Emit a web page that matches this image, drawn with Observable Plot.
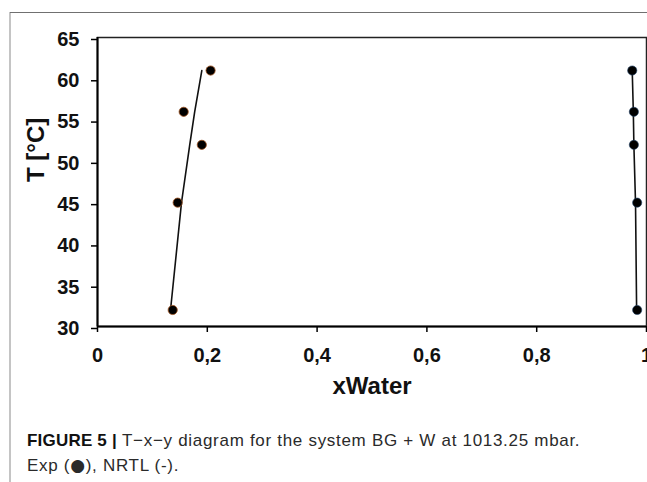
<!DOCTYPE html>
<html>
<head>
<meta charset="utf-8">
<script src="https://cdn.jsdelivr.net/npm/d3@7"></script>
<script src="https://cdn.jsdelivr.net/npm/@observablehq/plot@0.6"></script>
<style>
  html, body { margin: 0; padding: 0; background: #fff; width: 647px; height: 482px; overflow: hidden; }
  #wrap { position: relative; width: 647px; height: 482px; }
  #bl { position: absolute; left: 9px; top: 12px; width: 2px; height: 470px; background: #c4c4c4; }
  #bt { position: absolute; left: 10px; top: 12px; width: 637px; height: 1px; background: #707070; }
  #chart { position: absolute; left: 0; top: 0; }
  #caption { position: absolute; left: 27px; top: 428px; width: 615px; font-family: "Liberation Sans", Arial, sans-serif; font-size: 17px; letter-spacing: 0.7px; line-height: 25px; color: #2a2a2a; white-space: nowrap; }
  #caption b { font-weight: bold; color: #111; letter-spacing: 0.2px; }
  #caption .dot { font-family: "DejaVu Sans", sans-serif; font-size: 17px; }
</style>
</head>
<body>
<div id="wrap">
  <div id="bl"></div>
  <div id="bt"></div>
  <div id="chart"></div>
  <div id="caption"><b>FIGURE 5 |</b> T−x−y diagram for the system BG + W at 1013.25 mbar.<br>Exp (<span class="dot">●</span>), NRTL (-).</div>
</div>
<script>
// Temperatures (°C)
const temps = [32, 45, 52, 56, 61];
// Experimental points (x water), BG-rich and water-rich branches
const expLeftX = [0.137, 0.146, 0.190, 0.157, 0.206];
const expRightX = [0.983, 0.983, 0.977, 0.977, 0.974];
// NRTL curves
const nrtlT = [32, 45, 52, 56, 61];
const nrtlLeftX = [0.133, 0.153, 0.168, 0.177, 0.190];
const nrtlRightX = [0.982, 0.980, 0.977, 0.976, 0.974];
// Ticks
const xTicks = [0, 0.2, 0.4, 0.6, 0.8, 1];
const yTicks = [30, 35, 40, 45, 50, 55, 60, 65];

const expLeft = temps.map((t, i) => ({x: expLeftX[i], T: t}));
const expRight = temps.map((t, i) => ({x: expRightX[i], T: t}));
const nrtlLeft = nrtlT.map((t, i) => ({x: nrtlLeftX[i], T: t}));
const nrtlRight = nrtlT.map((t, i) => ({x: nrtlRightX[i], T: t}));

const font = "'Liberation Sans', Arial, sans-serif";

const plot = Plot.plot({
  width: 647,
  height: 400,
  marginLeft: 97,
  marginRight: 1,
  marginTop: 37,
  marginBottom: 74,
  style: { fontFamily: font, background: "transparent", overflow: "visible" },
  x: { domain: [0, 1] },
  y: { domain: [30, 65] },
  marks: [
    Plot.frame({ stroke: "#222", strokeWidth: 1.5 }),
    Plot.axisX({ ticks: xTicks, tickFormat: d => String(d).replace(".", ","), tickSize: 6, tickPadding: 15, fontSize: 20, fontWeight: "bold", label: null, stroke: "#000", strokeWidth: 1.5, color: "#111" }),
    Plot.axisY({ ticks: yTicks, tickSize: 6, tickPadding: 12, fontSize: 20, fontWeight: "bold", label: null, dy: 2, stroke: "#000", strokeWidth: 1.5, color: "#111" }),
    Plot.ruleX([0], { stroke: "#000", strokeWidth: 2 }),
    Plot.ruleY([30], { stroke: "#000", strokeWidth: 2 }),
    Plot.line(nrtlLeft, { x: "x", y: "T", stroke: "#111", strokeWidth: 1.6 }),
    Plot.line(nrtlRight, { x: "x", y: "T", stroke: "#111", strokeWidth: 1.6 }),
    Plot.dot(expLeft, { x: "x", y: "T", r: 4.6, fill: "#000", stroke: "#a0521e", strokeWidth: 0.8 }),
    Plot.dot(expRight, { x: "x", y: "T", r: 4.6, fill: "#000", stroke: "#1f3f66", strokeWidth: 0.6 }),
    Plot.text(["xWater"], { frameAnchor: "bottom", dy: 60, text: d => d, fontSize: 24, fontWeight: "bold", fill: "#111", lineAnchor: "middle" }),
    Plot.text(["T [°C]"], { frameAnchor: "left", dx: -61, rotate: -90, text: d => d, fontSize: 24, fontWeight: "bold", fill: "#111", lineAnchor: "middle" })
  ]
});
document.getElementById("chart").appendChild(plot);
</script>
</body>
</html>
